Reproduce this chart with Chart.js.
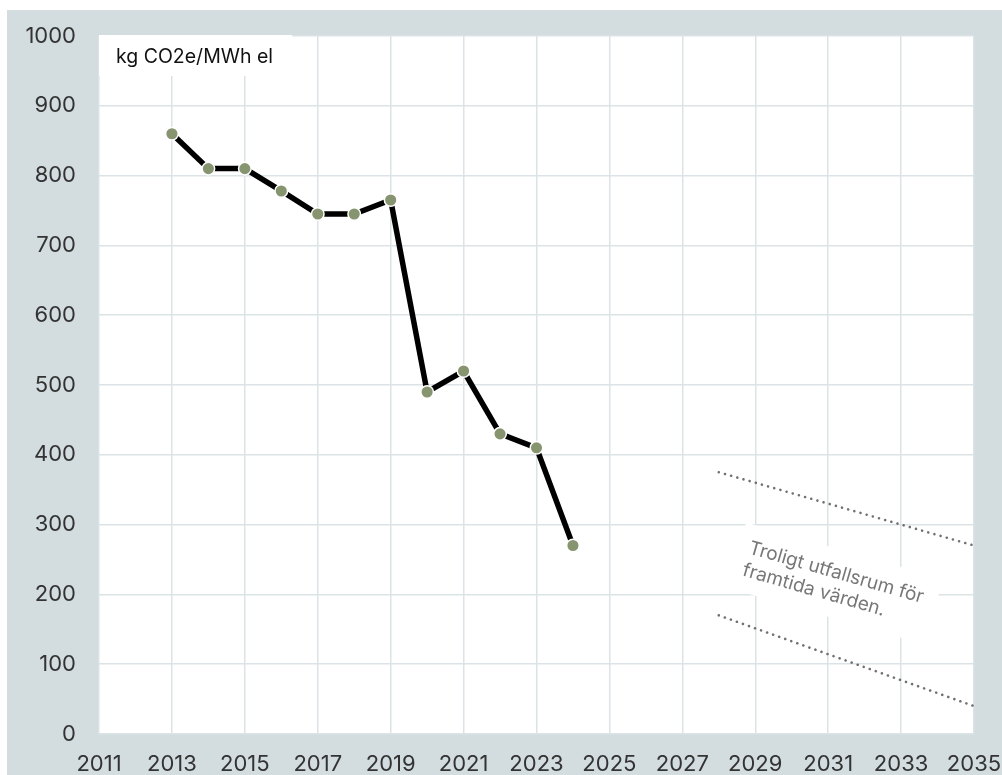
<!DOCTYPE html>
<html>
<head>
<meta charset="utf-8">
<script src="https://cdn.jsdelivr.net/npm/chart.js@4/dist/chart.umd.min.js"></script>
<style>
  html, body { margin: 0; padding: 0; background: #ffffff; }
  #wrap { width: 1002px; height: 775px; position: relative; }
  canvas { display: block; }
</style>
</head>
<body>
<div id="wrap"><canvas id="c" width="1002" height="775"></canvas></div>
<script>
// ---- data ----
const years = [2013, 2014, 2015, 2016, 2017, 2018, 2019, 2020, 2021, 2022, 2023, 2024];
const emissions = [860, 810, 810, 778, 745, 745, 765, 490, 520, 430, 410, 270];
const rangeYears = [2028, 2035];
const rangeUpper = [375, 270];
const rangeLower = [170, 40];
const unitLabel = "kg CO2e/MWh el";
const noteLines = ["Troligt utfallsrum för", "framtida värden."];
const xMin = 2011, xMax = 2035, xStep = 2;
const yMin = 0, yMax = 1000, yStep = 100;

const FONT = "Inter, 'Noto Sans', sans-serif";

const toXY = (xs, ys) => xs.map((x, i) => ({ x: x, y: ys[i] }));

const decor = {
  id: 'decor',
  beforeDraw(chart) {
    const ctx = chart.ctx, a = chart.chartArea;
    ctx.save();
    ctx.fillStyle = '#d3dcdf';
    ctx.fillRect(7, 10, chart.width - 7, chart.height - 10);
    ctx.fillStyle = '#ffffff';
    ctx.fillRect(a.left, a.top, a.right - a.left, a.bottom - a.top);
    ctx.restore();
  },
  beforeDatasetsDraw(chart) {
    const ctx = chart.ctx, a = chart.chartArea;
    const xs = chart.scales.x, ys = chart.scales.y;
    ctx.save();
    // unit label box
    ctx.fillStyle = '#ffffff';
    ctx.fillRect(a.left, a.top - 1, 193, 41);
    ctx.fillStyle = '#111111';
    ctx.font = '19.5px ' + FONT;
    ctx.textBaseline = 'alphabetic';
    ctx.textAlign = 'left';
    ctx.fillText(unitLabel, a.left + 17, a.top + 27);

    // rotated note box
    const x1 = xs.getPixelForValue(rangeYears[0]), y1 = ys.getPixelForValue(rangeUpper[0]);
    const x2 = xs.getPixelForValue(rangeYears[1]), y2 = ys.getPixelForValue(rangeUpper[1]);
    const ang = Math.atan2(y2 - y1, x2 - x1);
    const ox = xs.getPixelForValue(2028.75), oy = ys.getPixelForValue(303);
    ctx.translate(ox, oy);
    ctx.rotate(ang);
    ctx.fillStyle = '#ffffff';
    ctx.fillRect(0, 0, 205, 68);
    ctx.fillStyle = '#777777';
    ctx.font = '19px ' + FONT;
    ctx.fillText(noteLines[0], 10, 29);
    ctx.fillText(noteLines[1], 10, 52);
    ctx.restore();
  }
};

const dotted = {
  borderColor: '#707070',
  borderWidth: 2.6,
  borderDash: [0.01, 6.4],
  borderCapStyle: 'round',
  pointRadius: 0
};

new Chart(document.getElementById('c'), {
  type: 'line',
  data: {
    datasets: [
      {
        data: toXY(years, emissions),
        borderColor: '#000000',
        borderWidth: 5.5,
        pointRadius: 6.3,
        pointBorderWidth: 1.5,
        pointBackgroundColor: '#879470',
        pointBorderColor: '#ffffff',
        tension: 0
      },
      Object.assign({ data: toXY(rangeYears, rangeUpper) }, dotted),
      Object.assign({ data: toXY(rangeYears, rangeLower) }, dotted)
    ]
  },
  options: {
    responsive: false,
    animation: false,
    layout: { padding: { left: 0, top: 36, right: 28, bottom: 0 } },
    plugins: { legend: { display: false }, tooltip: { enabled: false } },
    scales: {
      x: {
        type: 'linear',
        min: xMin, max: xMax,
        afterFit(s) { s.height = 41; s.paddingLeft = 0; s.paddingRight = 0; },
        border: { display: false },
        grid: { color: '#dbe3e6', lineWidth: 1.5, drawTicks: false },
        ticks: {
          stepSize: xStep,
          padding: 17,
          color: '#333333',
          font: { family: FONT, size: 22 },
          maxRotation: 0,
          autoSkip: false,
          callback: v => String(v)
        }
      },
      y: {
        min: yMin, max: yMax,
        afterFit(s) { s.width = 99; s.paddingTop = 0; s.paddingBottom = 0; },
        border: { display: false },
        grid: { color: '#dbe3e6', lineWidth: 1.5, drawTicks: false },
        ticks: {
          stepSize: yStep,
          padding: 23,
          color: '#333333',
          font: { family: FONT, size: 22 },
          callback: v => String(v)
        }
      }
    }
  },
  plugins: [decor]
});
</script>
</body>
</html>
